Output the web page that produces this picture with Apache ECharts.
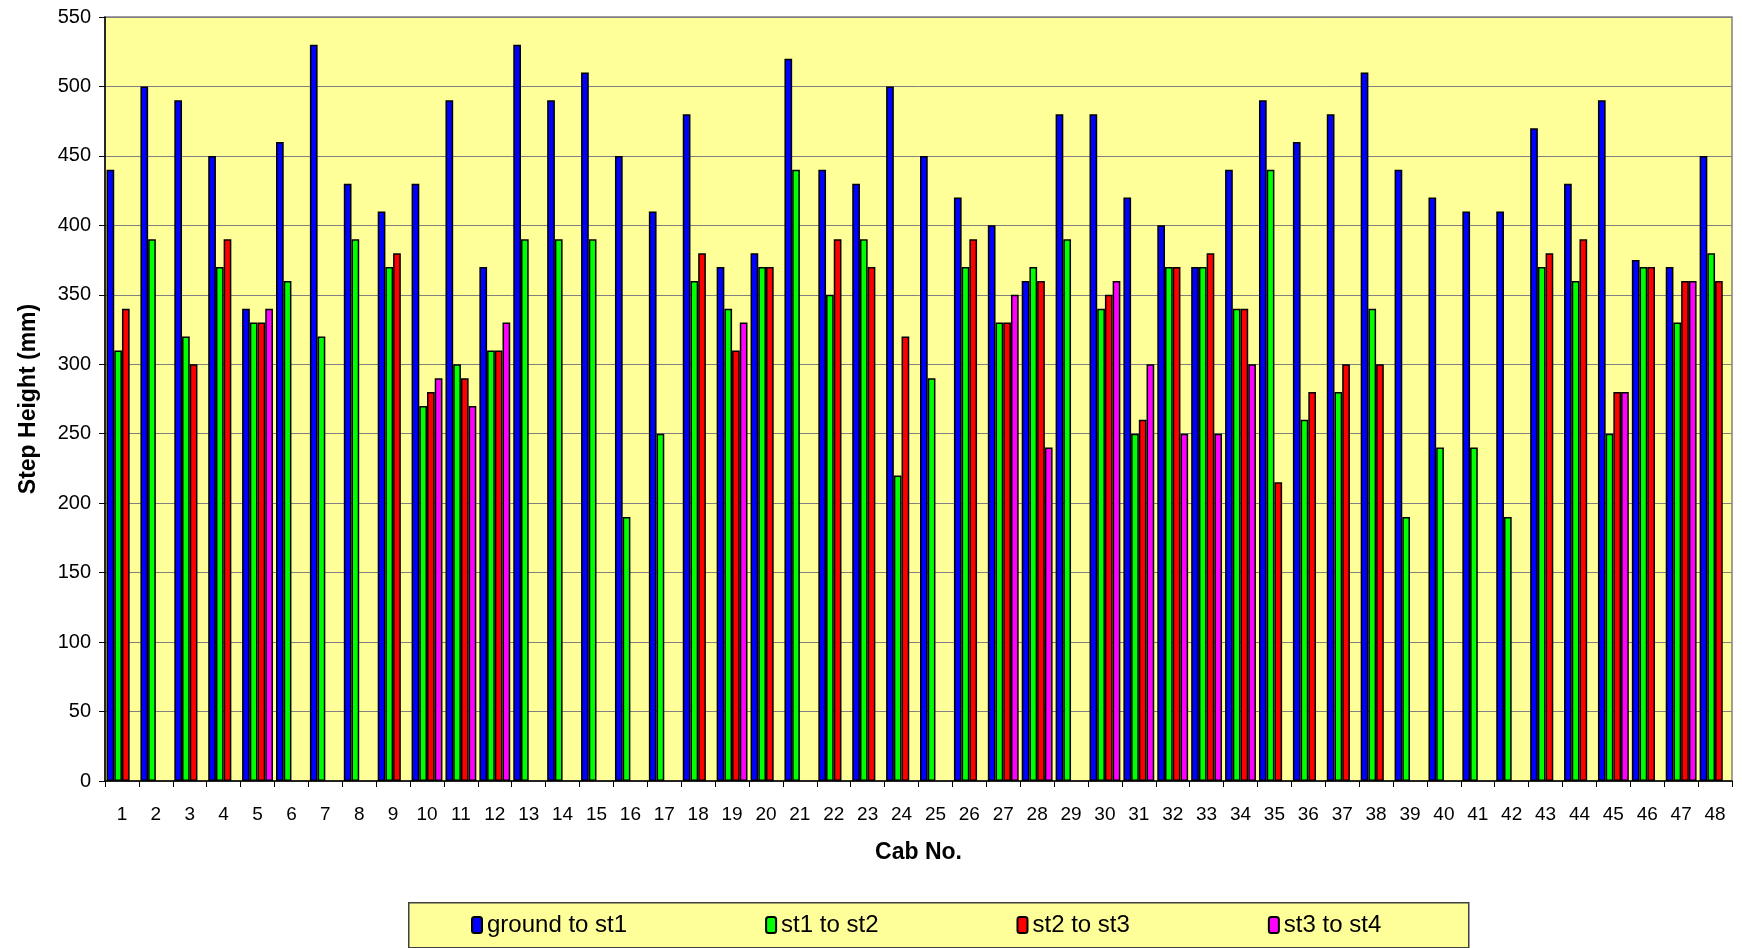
<!DOCTYPE html>
<html>
<head>
<meta charset="utf-8">
<script src="https://cdn.jsdelivr.net/npm/echarts@6/dist/echarts.min.js"></script>
<style>
html,body{margin:0;padding:0;background:#fff;}
#chart{width:1742px;height:948px;}
</style>
</head>
<body>
<div id="chart"></div>
<script>
const categories = ['1','2','3','4','5','6','7','8','9','10','11','12','13','14','15','16','17','18','19','20','21','22','23','24','25','26','27','28','29','30','31','32','33','34','35','36','37','38','39','40','41','42','43','44','45','46','47','48'];
const seriesNames = ['ground to st1','st1 to st2','st2 to st3','st3 to st4'];
const groundToSt1 = [440,500,490,450,340,460,530,430,410,430,490,370,530,490,510,450,410,480,370,380,520,440,430,500,450,420,400,360,480,480,420,400,370,440,490,460,480,510,440,420,410,410,470,430,490,375,370,450];
const st1ToSt2 = [310,390,320,370,330,360,320,390,370,270,300,310,390,390,390,190,250,360,340,370,440,350,390,220,290,370,330,370,390,340,250,370,370,340,440,260,280,340,190,240,240,190,370,360,250,370,330,380];
const st2ToSt3 = [340,null,300,390,330,null,null,null,380,280,290,310,null,null,null,null,null,380,310,370,null,390,370,320,null,390,330,360,null,350,260,370,380,340,215,280,300,300,null,null,null,null,380,390,280,370,360,360];
const st3ToSt4 = [null,null,null,null,340,null,null,null,null,290,270,330,null,null,null,null,null,null,330,null,null,null,null,null,null,null,350,240,null,360,300,250,250,300,null,null,null,null,null,null,null,null,null,null,280,null,360,null];
const yTicks = {min:0, max:550, interval:50};
const colors = ['#0000FF','#00FF00','#FF0000','#FF00FF'];

const FONT = "'Liberation Sans', Arial, sans-serif";
const dataSets = [groundToSt1, st1ToSt2, st2ToSt3, st3ToSt4];

const chart = echarts.init(document.getElementById('chart'), null, {renderer:'canvas'});
chart.setOption({
  animation:false,
  backgroundColor:'#ffffff',
  textStyle:{fontFamily:FONT},
  grid:{left:105,right:10,top:17,bottom:167,show:true,backgroundColor:'#FFFF99',borderColor:'#808080',borderWidth:1.5},
  graphic:[{
    type:'rect', left:408, top:902, z:-1,
    shape:{width:1060,height:45},
    style:{fill:'#FFFF99',stroke:'#404040',lineWidth:1.5}
  }],
  legend:{
    left:466, top:908,
    itemWidth:10, itemHeight:16, itemGap:138,
    textStyle:{fontFamily:FONT,fontSize:24,color:'#000'},
    data:seriesNames
  },
  xAxis:{
    type:'category', data:categories,
    name:'Cab No.', nameLocation:'middle', nameGap:60,
    nameTextStyle:{fontFamily:FONT,fontSize:23,fontWeight:'bold',color:'#000'},
    axisLine:{lineStyle:{color:'#000',width:1.5}},
    axisTick:{show:true,length:6,lineStyle:{color:'#000'}},
    axisLabel:{interval:0,margin:24,fontSize:19,color:'#000',fontFamily:FONT}
  },
  yAxis:{
    type:'value', min:yTicks.min, max:yTicks.max, interval:yTicks.interval,
    name:'Step Height (mm)', nameLocation:'middle', nameGap:65,
    nameTextStyle:{fontFamily:FONT,fontSize:23,fontWeight:'bold',color:'#000'},
    axisLine:{show:true,lineStyle:{color:'#000',width:1.5}},
    axisTick:{show:true,length:6,lineStyle:{color:'#000'}},
    axisLabel:{margin:14,fontSize:20,color:'#000',fontFamily:FONT},
    splitLine:{show:true,lineStyle:{color:'#808080',width:1}}
  },
  series: seriesNames.map((n,i)=>({
    name:n, type:'bar', data:dataSets[i],
    barGap:'0%', barCategoryGap:'9%',
    itemStyle:{color:colors[i],borderColor:'#000',borderWidth:1.5}
  }))
});
</script>
</body>
</html>
